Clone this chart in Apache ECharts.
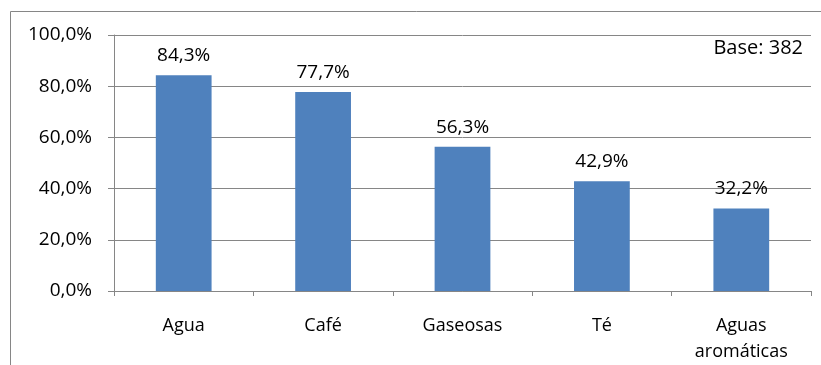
<!DOCTYPE html>
<html>
<head>
<meta charset="utf-8">
<style>
  html, body { margin: 0; padding: 0; background: #fff; }
  #chart { width: 821px; height: 365px; }
</style>
<script src="https://cdn.jsdelivr.net/npm/echarts@6/dist/echarts.min.js"></script>
</head>
<body>
<div id="chart"></div>
<script>
// Beverage consumption shares (percent of respondents)
const categories = ['Agua', 'Café', 'Gaseosas', 'Té', 'Aguas\naromáticas'];
const shares = [84.3, 77.7, 56.3, 42.9, 32.2];
const baseNote = 'Base: 382';

const FONT = '"Open Sans", "Noto Sans", sans-serif';
const TEXT_SIZE = 18;
const NUM_SIZE = 19;
const GRID_COLOR = '#868686';
const BAR_COLOR = '#4F81BD';

const fmtPct = v => v.toFixed(1).replace('.', ',') + '%';

const chart = echarts.init(document.getElementById('chart'), null, { renderer: 'canvas' });

chart.setOption({
  animation: false,
  backgroundColor: '#fff',
  textStyle: { fontFamily: FONT },
  grid: { left: 114, right: 10, top: 35, bottom: 74, containLabel: false },
  graphic: [
    {
      type: 'rect',
      shape: { x: 10.5, y: 11.5, width: 900, height: 500 },
      style: { fill: 'none', stroke: GRID_COLOR, lineWidth: 1 },
      z: -1
    },
    {
      type: 'text',
      x: 803,
      y: 48,
      style: {
        text: baseNote,
        font: '20px "Open Sans", sans-serif',
        fill: '#000',
        align: 'right',
        verticalAlign: 'middle'
      }
    }
  ],
  xAxis: {
    type: 'category',
    data: categories,
    axisLine: { lineStyle: { color: GRID_COLOR, width: 1 } },
    axisTick: { show: true, alignWithLabel: false, length: 5, lineStyle: { color: GRID_COLOR } },
    axisLabel: { color: '#000', fontSize: TEXT_SIZE, fontFamily: FONT, margin: 22, lineHeight: 26, interval: 0 }
  },
  yAxis: {
    type: 'value',
    min: 0,
    max: 100,
    interval: 20,
    axisLine: { show: true, lineStyle: { color: GRID_COLOR, width: 1 } },
    axisTick: { show: true, length: 6, lineStyle: { color: GRID_COLOR } },
    splitLine: { lineStyle: { color: GRID_COLOR, width: 1 } },
    axisLabel: { color: '#000', fontSize: NUM_SIZE, fontFamily: FONT, margin: 22, formatter: v => fmtPct(v) }
  },
  series: [{
    type: 'bar',
    data: shares,
    barWidth: '40%',
    itemStyle: { color: BAR_COLOR },
    label: {
      show: true,
      position: 'top',
      distance: 10,
      color: '#000',
      fontSize: NUM_SIZE,
      fontFamily: FONT,
      formatter: p => fmtPct(p.value)
    }
  }]
});
</script>
</body>
</html>
